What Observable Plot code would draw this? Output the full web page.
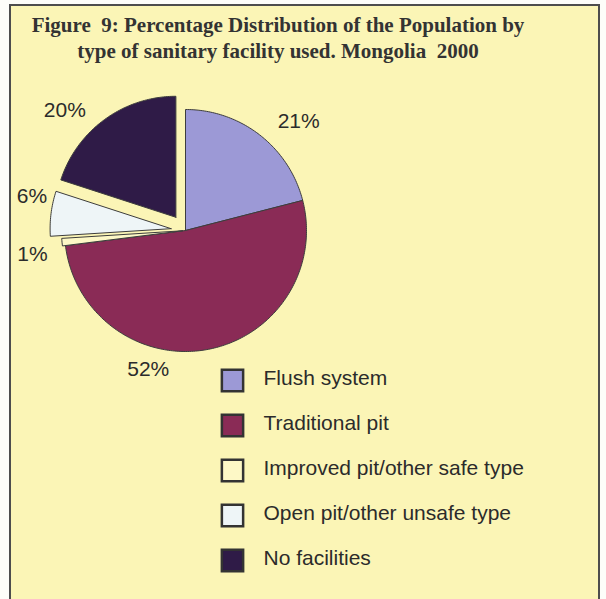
<!DOCTYPE html>
<html>
<head>
<meta charset="utf-8">
<script src="https://cdn.jsdelivr.net/npm/d3@7"></script>
<script src="https://cdn.jsdelivr.net/npm/@observablehq/plot@0.6"></script>
<style>
  html, body { margin: 0; padding: 0; background: #fdfdf9; }
  body { width: 606px; height: 599px; overflow: hidden; position: relative; }
  #box {
    position: absolute; left: 9px; top: 4px;
    width: 587px; height: 640px;
    border: 2px solid #4d4d4d;
    background: #fbf5b6;
  }
  #title {
    position: absolute; left: 0; top: 6px; width: 534px;
    text-align: center; white-space: pre;
    font: bold 21px/26px "Liberation Serif", "Times New Roman", serif;
    color: #333;
  }
  #chart { position: absolute; left: 0; top: 62px; }
</style>
</head>
<body>
<div id="box">
  <div id="title">Figure  9: Percentage Distribution of the Population by
type of sanitary facility used. Mongolia  2000</div>
  <div id="chart"></div>
</div>
<script>
// Sanitary facility categories and their share of the population (%)
const categories = [
  "Flush system",
  "Traditional pit",
  "Improved pit/other safe type",
  "Open pit/other unsafe type",
  "No facilities"
];
const shares = [21, 52, 1, 6, 20];
const valueLabels = ["21%", "52%", "1%", "6%", "20%"];
const sliceColors = ["#9c99d6", "#8a2b56", "#fdf8c6", "#eef5f7", "#2f1b47"];

// Layout
const W = 587, H = 540;
const cx = 174, cy = 162, R = 121;
const explode = [0, 0, 0.025, 0.12, 0.135];          // pull-out, in radii
const labelPolar = [[46, 1.30], [195, 1.19], [261, 1.28], [282.5, 1.30], [315, 1.41]]; // [deg, radii]
const legendX = 221, legendTextX = 252, legendY0 = 312, legendStep = 45;

const rad = Math.PI / 180;

// Slice outlines: apex, outer arc, back to apex
const slicePoints = [];
let acc = 0;
shares.forEach((s, i) => {
  const a0 = acc / 100 * 360, a1 = (acc + s) / 100 * 360;
  acc += s;
  const mid = (a0 + a1) / 2;
  const ox = explode[i] * R * Math.sin(mid * rad);
  const oy = -explode[i] * R * Math.cos(mid * rad);
  const key = categories[i];
  slicePoints.push({key, x: cx + ox, y: cy + oy});
  const n = Math.max(2, Math.ceil(a1 - a0));
  for (let k = 0; k <= n; ++k) {
    const a = (a0 + (a1 - a0) * k / n) * rad;
    slicePoints.push({key, x: cx + ox + R * Math.sin(a), y: cy + oy - R * Math.cos(a)});
  }
  slicePoints.push({key, x: cx + ox, y: cy + oy});
});

const labelRows = valueLabels.map((t, i) => ({
  text: t,
  x: cx + labelPolar[i][1] * R * Math.sin(labelPolar[i][0] * rad),
  y: cy - labelPolar[i][1] * R * Math.cos(labelPolar[i][0] * rad)
}));

const font = "'Liberation Sans', Arial, sans-serif";

const chart = Plot.plot({
  width: W,
  height: H,
  margin: 0,
  x: {type: "linear", domain: [0, W], range: [0, W], axis: null},
  y: {type: "linear", domain: [0, H], range: [0, H], axis: null},
  color: {domain: categories, range: sliceColors},
  style: {background: "transparent", overflow: "visible"},
  marks: [
    Plot.line(slicePoints, {
      x: "x", y: "y", z: "key", fill: "key",
      stroke: "#3d3d3d", strokeWidth: 1, strokeLinejoin: "round", curve: "linear"
    }),
    Plot.text(labelRows, {
      x: "x", y: "y", text: "text",
      fontSize: 21, fontFamily: font, fill: "#2b2b2b"
    }),
    Plot.dot(categories, {
      x: () => legendX, y: (d, i) => legendY0 + i * legendStep,
      symbol: "square", r: 12, fill: d => d, stroke: "#333", strokeWidth: 2.5
    }),
    Plot.text(categories, {
      x: () => legendTextX, y: (d, i) => legendY0 + i * legendStep - 2,
      text: d => d, textAnchor: "start",
      fontSize: 21, fontFamily: font, fill: "#2b2b2b"
    })
  ]
});

document.getElementById("chart").appendChild(chart);
</script>
</body>
</html>
